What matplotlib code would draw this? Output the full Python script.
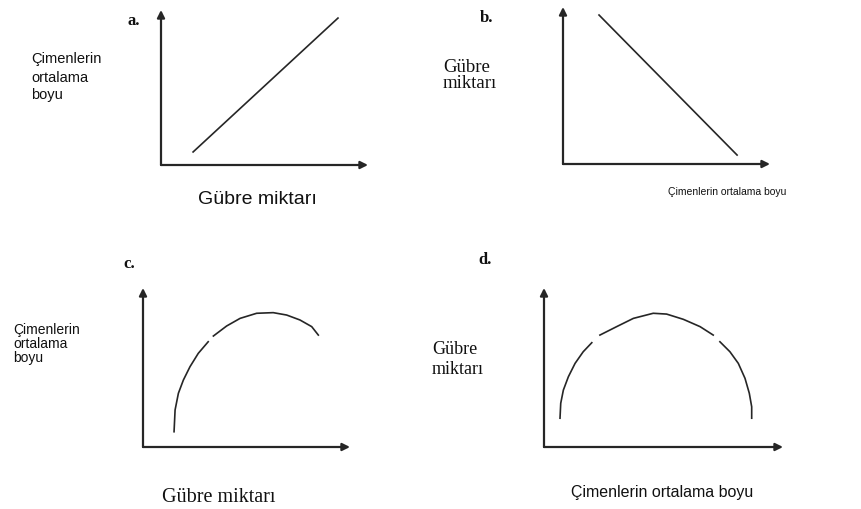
import matplotlib.pyplot as plt

# a: düz artan çizgi
a_x = [1.55, 8.55]
a_y = [0.84, 9.48]

# b: düz azalan çizgi
b_x = [1.74, 8.41]
b_y = [9.49, 0.57]

# c: önce hızlı artan sonra azalan eğri (None = taramadaki boşluk)
c_x = [1.50, 1.55, 1.71, 1.95, 2.27, 2.67, 3.15, None,
       3.40, 4.04, 4.69, 5.49, 6.29, 6.94, 7.58, 8.15, 8.47]
c_y = [0.96, 2.33, 3.38, 4.21, 5.05, 5.89, 6.62, None,
       6.98, 7.61, 8.09, 8.41, 8.45, 8.30, 7.99, 7.57, 7.04]

# d: yarım daireye benzer eğri
d_x = [0.67, 0.70, 0.81, 1.02, 1.30, 1.64, 2.00, None,
       2.34, 3.04, 3.74, 4.57, 5.13, 5.83, 6.53, 7.08, None,
       7.36, 7.78, 8.13, 8.41, 8.59, 8.69, 8.69]
d_y = [1.81, 2.75, 3.58, 4.42, 5.26, 5.99, 6.56, None,
       7.04, 7.57, 8.09, 8.41, 8.36, 8.03, 7.57, 7.04, None,
       6.62, 5.99, 5.26, 4.32, 3.38, 2.53, 1.81]

W, H = 861, 509
SANS = 'Liberation Sans'
SERIF = 'Liberation Serif'
INK = '#262626'

fig = plt.figure(figsize=(W / 100, H / 100), dpi=100)


def px(x, y):
    return x / W, 1 - y / H


def panel(x0, y0, x1, y1, xs, ys):
    # x0,y0 = orijin (piksel), x1 = x ekseni ucu, y1 = y ekseni ucu
    ax = fig.add_axes([x0 / W, 1 - y0 / H, (x1 - x0) / W, (y0 - y1) / H])
    ax.set_xlim(0, 10)
    ax.set_ylim(0, 10)
    ax.axis('off')
    ok = dict(arrowstyle='-|>', color=INK, lw=1.6, mutation_scale=11,
              shrinkA=0, shrinkB=0)
    ax.annotate('', xy=(1, 0), xytext=(0, 0), xycoords='axes fraction',
                arrowprops=ok, annotation_clip=False)
    ax.annotate('', xy=(0, 1), xytext=(0, 0), xycoords='axes fraction',
                arrowprops=ok, annotation_clip=False)
    xs = [float('nan') if v is None else v for v in xs]
    ys = [float('nan') if v is None else v for v in ys]
    ax.plot(xs, ys, color=INK, lw=1.2, clip_on=False)
    return ax


def yazi(x, y, s, family, size, ha='left', va='center', weight='normal'):
    fig.text(*px(x, y), s, family=family, fontsize=size, ha=ha, va=va,
             weight=weight, color='#111111')


# a
panel(161, 165, 368, 10, a_x, a_y)
yazi(128, 21, 'a.', SERIF, 12, weight='bold')
yazi(31, 59, 'Çimenlerin', SANS, 10.5)
yazi(31, 78, 'ortalama', SANS, 10.5)
yazi(31, 95, 'boyu', SANS, 10.5)
yazi(257, 200, 'Gübre miktarı', SANS, 14, ha='center')

# b
panel(563, 164, 770, 7, b_x, b_y)
yazi(480, 18, 'b.', SERIF, 12, weight='bold')
yazi(443, 68, 'Gübre', SERIF, 13.5)
yazi(443, 84, 'miktarı', SERIF, 13.5)
yazi(668, 192, 'Çimenlerin ortalama boyu', SANS, 7.5)

# c
panel(143, 447, 350, 288, c_x, c_y)
yazi(123, 264, 'c.', SERIF, 12, weight='bold')
yazi(13, 330, 'Çimenlerin', SANS, 10)
yazi(13, 344, 'ortalama', SANS, 10)
yazi(13, 358, 'boyu', SANS, 10)
yazi(219, 498, 'Gübre miktarı', SERIF, 14.5, ha='center')

# d
panel(544, 447, 783, 288, d_x, d_y)
yazi(478, 260, 'd.', SERIF, 12, weight='bold')
yazi(432, 349, 'Gübre', SERIF, 13)
yazi(432, 370, 'miktarı', SERIF, 13)
yazi(662, 493, 'Çimenlerin ortalama boyu', SANS, 11.5, ha='center')

fig.savefig('out.png', dpi=100, facecolor='white')
